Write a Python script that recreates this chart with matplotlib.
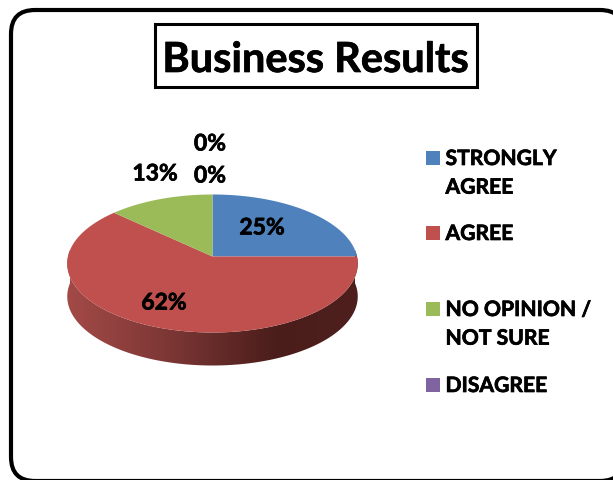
import numpy as np
import matplotlib
matplotlib.use("Agg")
import matplotlib.pyplot as plt
import matplotlib.patheffects as pe
from matplotlib.patches import FancyBboxPatch, Polygon, Rectangle
from matplotlib.colors import LinearSegmentedColormap

categories = ["STRONGLY\nAGREE", "AGREE", "NO OPINION /\nNOT SURE", "DISAGREE", "STRONGLY DISAGREE"]
values = [25, 62, 13, 0, 0]
colors = ["#4F81BD", "#C0504D", "#9BBB59", "#8064A2", "#4BACC6"]
legend_rows = [158, 233, 309, 385]
label_positions = [(262, 229), (164, 304), (155, 175), (210, 177), (210, 145)]

FONT = ["Lato", "DejaVu Sans"]
W, H = 613, 481
CX, CY = 212.5, 257.5
RX, RY, TILT, DEPTH = 144.5, 68.3, 0.1014, 33
HEAVY = [pe.withStroke(linewidth=0.5, foreground="black")]


def project(theta):
    """Project clockwise-from-top pie angles onto the tilted disc."""
    u, v = np.sin(theta), np.cos(theta)
    d = 1 + TILT * v
    return CX + RX * u / d, CY - RY * v / d


fig = plt.figure(figsize=(W / 100, H / 100), dpi=100)
ax = fig.add_axes([0, 0, 1, 1])
ax.set_xlim(0, W)
ax.set_ylim(H, 0)
ax.axis("off")

# Outer rounded frame, running off the right and lower edges of the figure
ax.add_patch(FancyBboxPatch((11, 11), 613, 471, boxstyle="round,pad=0,rounding_size=24",
                            fc="white", ec="black", lw=3.0))

# Title box
ax.add_patch(Rectangle((154.5, 25), 322, 63, fc="white", ec="black", lw=2.2))
ax.text(315.5, 61, "Business Results", ha="center", va="center", fontsize=29.9,
        fontweight="bold", family=FONT, color="black", path_effects=HEAVY)

# Side wall of the disc with a left-to-right shading
theta = np.linspace(np.pi * 0.47, np.pi * 1.53, 300)
x, y = project(theta)
wall = Polygon(np.r_[np.c_[x, y], np.c_[x[::-1], y[::-1] + DEPTH]], closed=True, fc="none", ec="none")
ax.add_patch(wall)
shade = LinearSegmentedColormap.from_list(
    "wall", [(0, "#A44A47"), (0.35, "#7C3735"), (0.72, "#4A1D1B"), (1, "#4E1F1D")])
img = ax.imshow(np.linspace(0, 1, 256)[None, :], cmap=shade, aspect="auto",
                extent=(CX - RX - 2, CX + RX + 2, 420, 240), zorder=1)
img.set_clip_path(wall)
ax.set_xlim(0, W)
ax.set_ylim(H, 0)

# Top face, one wedge per category
edges = np.r_[0, np.cumsum(values)] / sum(values) * 2 * np.pi
for start, stop, color in zip(edges[:-1], edges[1:], colors):
    if stop > start:
        px, py = project(np.linspace(start, stop, 200))
        ax.add_patch(Polygon(np.r_[[[CX, CY]], np.c_[px, py]], closed=True, fc=color, ec="none", zorder=2))

# Percentage labels
for val, (lx, ly) in zip(values, label_positions):
    ax.text(lx, ly, f"{val}%", ha="center", va="center", fontsize=16.5, fontweight="bold",
            family=FONT, color="black", zorder=3, path_effects=HEAVY)

# Legend
for label, color, row in zip(categories, colors, legend_rows):
    ax.add_patch(Rectangle((426, row - 6.5), 14, 14, fc=color, ec="none"))
    ax.text(445.5, row - 8, label, ha="left", va="top", fontsize=15.2, fontweight="bold",
            family=FONT, color="black", linespacing=1.54, path_effects=HEAVY)

fig.savefig("out.png", dpi=100)
